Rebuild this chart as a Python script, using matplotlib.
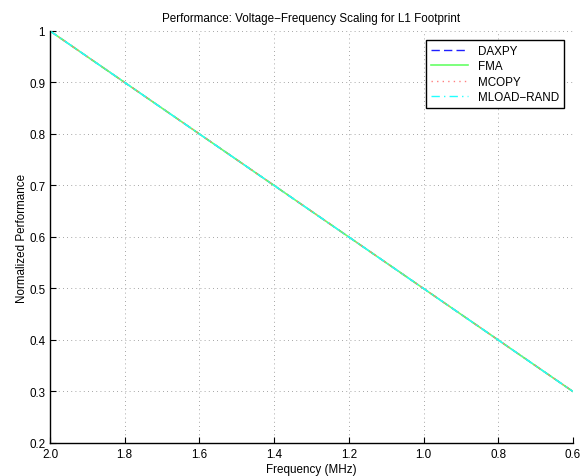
import matplotlib
matplotlib.use("Agg")
import matplotlib.pyplot as plt

plt.rcParams['font.family'] = ['Liberation Sans', 'DejaVu Sans']

freq = [2.0, 1.9, 1.8, 1.7, 1.6, 1.5, 1.4, 1.3, 1.2, 1.1, 1.0, 0.9, 0.8, 0.7, 0.6]
daxpy = [1.0, 0.95, 0.9, 0.85, 0.8, 0.75, 0.7, 0.65, 0.6, 0.55, 0.5, 0.45, 0.4, 0.35, 0.3]
fma = [1.0, 0.95, 0.9, 0.85, 0.8, 0.75, 0.7, 0.65, 0.6, 0.55, 0.5, 0.45, 0.4, 0.35, 0.3]
mcopy = [1.0, 0.95, 0.9, 0.85, 0.8, 0.75, 0.7, 0.65, 0.6, 0.55, 0.5, 0.45, 0.4, 0.35, 0.3]
mload_rand = [1.0, 0.95, 0.9, 0.85, 0.8, 0.75, 0.7, 0.65, 0.6, 0.55, 0.5, 0.45, 0.4, 0.35, 0.3]
xticks = [2.0, 1.8, 1.6, 1.4, 1.2, 1.0, 0.8, 0.6]
yticks = [0.2, 0.3, 0.4, 0.5, 0.6, 0.7, 0.8, 0.9, 1.0]

fs = 8.4
fig = plt.figure(figsize=(5.84, 4.77), dpi=100)
ax = fig.add_axes([0.0856, 0.0692, 0.8954, 0.8638])

ax.plot(freq, daxpy, color='#1f1fff', linestyle=(0, (6, 3)), linewidth=1.0, label='DAXPY')
ax.plot(freq, fma, color='#66ff66', linestyle='-', linewidth=1.2, label='FMA')
ax.plot(freq, mcopy, color='#ff8080', linestyle=(0, (1, 3)), linewidth=1.0, label='MCOPY')
ax.plot(freq, mload_rand, color='#22ffff', linestyle=(0, (6, 3, 1, 3)), linewidth=1.0, label='MLOAD\u2212RAND')

ax.set_xlim(2.0, 0.6)
ax.set_ylim(0.2, 1.0)
ax.set_xticks(xticks)
ax.set_xticklabels(['%.1f' % v for v in xticks])
ax.set_yticks(yticks)
ax.set_yticklabels(['%g' % v for v in yticks])
ax.tick_params(direction='in', length=4, width=0.8, labelsize=fs, colors='black')
ax.grid(True, color='#888888', linestyle=(0, (1, 4)), linewidth=0.6)
ax.spines['top'].set_visible(False)
ax.spines['right'].set_visible(False)
ax.spines['left'].set_linewidth(1.0)
ax.spines['bottom'].set_linewidth(1.0)

ax.set_title('Performance: Voltage\u2212Frequency Scaling for L1 Footprint', fontsize=fs, pad=7)
ax.set_xlabel('Frequency (MHz)', fontsize=fs, labelpad=2)
ax.set_ylabel('Normalized Performance', fontsize=fs, labelpad=1)

leg = ax.legend(loc='upper right', fontsize=fs, fancybox=False, framealpha=1,
                edgecolor='black', borderaxespad=0.8, handlelength=3.2,
                labelspacing=0.3, borderpad=0.4)
leg.get_frame().set_linewidth(1.0)

fig.savefig('out.png', dpi=100)
